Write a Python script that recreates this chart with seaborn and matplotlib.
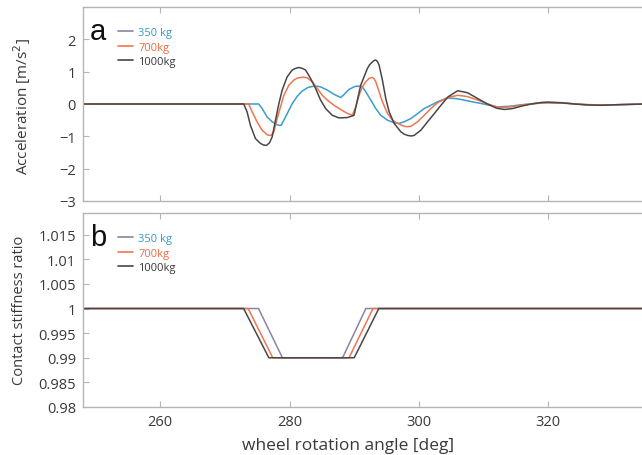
import numpy as np
import pandas as pd
import matplotlib
matplotlib.use("Agg")
import matplotlib.pyplot as plt
from matplotlib.lines import Line2D
import seaborn as sns

# ---- data -------------------------------------------------------------
loads = ["350 kg", "700kg", "1000kg"]

# vertical acceleration response [m/s^2] vs wheel rotation angle [deg]
acc_350_x = [248.0, 275.24, 275.76, 276.53, 277.31, 278.08, 278.40, 278.70, 279.12, 279.63,
             280.41, 281.19, 281.96, 282.74, 283.20, 283.77, 284.30, 284.80, 285.84, 286.87,
             287.90, 288.42, 289.20, 289.97, 290.30, 290.75, 291.26, 291.78, 292.56, 293.33,
             294.11, 295.14, 296.17, 296.50, 296.95, 297.72, 298.76, 299.79, 300.82, 301.86,
             302.89, 304.4, 306.0, 308.0, 310.0, 312.2, 314.0, 316.0, 319.4, 323.0, 326.0,
             329.0, 335.0]
acc_350_y = [0.0, 0.0, -0.14, -0.40, -0.55, -0.64, -0.66, -0.66, -0.50, -0.30,
             0.01, 0.24, 0.40, 0.50, 0.53, 0.55, 0.55, 0.53, 0.43, 0.30,
             0.20, 0.29, 0.45, 0.53, 0.55, 0.55, 0.53, 0.38, 0.12, -0.14,
             -0.35, -0.50, -0.58, -0.59, -0.60, -0.55, -0.45, -0.30, -0.14, -0.04,
             0.07, 0.19, 0.16, 0.08, 0.0, -0.09, -0.07, -0.02, 0.04, 0.02, -0.02,
             -0.03, 0.0]

acc_700_x = [248.0, 273.69, 274.21, 274.98, 275.76, 276.53, 276.80, 277.15, 277.57, 278.08,
             278.60, 279.12, 279.89, 280.67, 281.20, 281.70, 282.20, 282.74, 283.51, 284.29,
             285.06, 285.84, 286.87, 287.90, 288.94, 289.71, 290.23, 290.75, 291.26, 291.78,
             292.30, 292.55, 292.81, 293.07, 293.33, 293.85, 294.36, 295.14, 295.91, 296.69,
             297.72, 298.20, 298.76, 299.79, 300.82, 301.86, 302.89, 304.5, 306.0, 307.5,
             309.0, 310.7, 312.0, 313.0, 314.5, 316.0, 317.5, 320.0, 323.0, 326.0, 329.0,
             335.0]
acc_700_y = [0.0, 0.0, -0.24, -0.55, -0.81, -0.95, -0.97, -0.97, -0.86, -0.45,
             -0.09, 0.27, 0.58, 0.74, 0.80, 0.82, 0.83, 0.81, 0.69, 0.48,
             0.27, 0.12, -0.04, -0.17, -0.29, -0.35, -0.09, 0.27, 0.53, 0.69,
             0.79, 0.81, 0.82, 0.78, 0.69, 0.38, 0.07, -0.29, -0.50, -0.60,
             -0.69, -0.70, -0.69, -0.55, -0.35, -0.14, 0.04, 0.20, 0.27, 0.23,
             0.13, 0.0, -0.09, -0.11, -0.08, -0.03, 0.01, 0.04, 0.02, -0.02, -0.03,
             0.0]

acc_1000_x = [248.0, 272.92, 273.43, 273.95, 274.73, 275.50, 276.00, 276.43, 276.90, 277.31,
              277.83, 278.34, 278.86, 279.63, 280.41, 280.90, 281.44, 282.00, 282.48, 283.25,
              284.03, 284.80, 285.58, 286.61, 287.65, 288.94, 289.97, 290.49, 291.00, 291.52,
              292.04, 292.40, 292.81, 293.10, 293.33, 293.60, 293.85, 294.36, 294.88, 295.40,
              296.17, 297.21, 297.70, 298.24, 298.80, 299.27, 300.31, 301.34, 302.37, 303.41,
              304.5, 306.0, 307.5, 309.0, 310.6, 312.0, 313.2, 314.5, 316.0, 317.4, 319.0,
              320.0, 322.0, 324.0, 326.0, 328.2, 331.0, 335.0]
acc_1000_y = [0.0, 0.0, -0.24, -0.66, -1.07, -1.22, -1.27, -1.28, -1.20, -1.02,
              -0.50, 0.0, 0.43, 0.84, 1.05, 1.10, 1.13, 1.10, 1.05, 0.79,
              0.48, 0.12, -0.14, -0.35, -0.43, -0.42, -0.35, 0.12, 0.58, 0.84,
              1.10, 1.22, 1.30, 1.35, 1.36, 1.31, 1.20, 0.74, 0.17, -0.24,
              -0.60, -0.86, -0.93, -0.97, -0.99, -0.97, -0.81, -0.55, -0.30, -0.04,
              0.22, 0.41, 0.35, 0.18, 0.0, -0.13, -0.17, -0.14, -0.06, 0.0, 0.05,
              0.06, 0.04, 0.0, -0.03, -0.04, -0.02, 0.0]

# contact stiffness ratio vs wheel rotation angle [deg]
stiff_350_x = [248.0, 275.2, 278.9, 288.2, 291.8, 335.0]
stiff_350_y = [1.0, 1.0, 0.99, 0.99, 1.0, 1.0]
stiff_700_x = [248.0, 273.6, 277.4, 289.2, 292.9, 335.0]
stiff_700_y = [1.0, 1.0, 0.99, 0.99, 1.0, 1.0]
stiff_1000_x = [248.0, 272.9, 276.8, 290.0, 293.8, 335.0]
stiff_1000_y = [1.0, 1.0, 0.99, 0.99, 1.0, 1.0]

x_ticks = [260, 280, 300, 320]
acc_ticks = [2, 1, 0, -1, -2, -3]
acc_tick_labels = ["2", "1", "0", "\u22121", "\u22122", "\u22123"]
stiff_ticks = [1.015, 1.01, 1.005, 1.0, 0.995, 0.99, 0.985, 0.98]
stiff_tick_labels = ["1.015", "1.01", "1.005", "1", "0.995", "0.99", "0.985", "0.98"]

# ---- long-form tables -------------------------------------------------
acc_df = pd.concat([
    pd.DataFrame({"angle": acc_350_x, "value": acc_350_y, "load": loads[0]}),
    pd.DataFrame({"angle": acc_700_x, "value": acc_700_y, "load": loads[1]}),
    pd.DataFrame({"angle": acc_1000_x, "value": acc_1000_y, "load": loads[2]}),
], ignore_index=True)
stiff_df = pd.concat([
    pd.DataFrame({"angle": stiff_350_x, "value": stiff_350_y, "load": loads[0]}),
    pd.DataFrame({"angle": stiff_700_x, "value": stiff_700_y, "load": loads[1]}),
    pd.DataFrame({"angle": stiff_1000_x, "value": stiff_1000_y, "load": loads[2]}),
], ignore_index=True)

# ---- styling ----------------------------------------------------------
sns.set_style("white")
plt.rcParams["font.family"] = ["Open Sans", "DejaVu Sans"]

BLUE = "#3a9ccf"
ORANGE = "#ef7550"
DARK = "#4a4646"
LAVENDER = "#8a84a0"
SPINE = "#b8b4b4"
TEXT = "#3c3838"

acc_palette = {loads[0]: BLUE, loads[1]: ORANGE, loads[2]: DARK}
stiff_palette = {loads[0]: LAVENDER, loads[1]: ORANGE, loads[2]: DARK}
legend_line_colors = [LAVENDER, ORANGE, DARK]
legend_text_colors = ["#3399cc", "#ee6a40", "#3a3636"]

W, H = 642, 456
fig = plt.figure(figsize=(W / 100, H / 100), dpi=100)
left = 83 / W
width = 1.0 - left + 0.002
ax_a = fig.add_axes([left, 1 - 202 / H, width, 194 / H])
ax_b = fig.add_axes([left, 1 - 408 / H, width, 194 / H])

sns.lineplot(data=acc_df, x="angle", y="value", hue="load", palette=acc_palette,
             hue_order=loads, sort=False, estimator=None, legend=False,
             linewidth=1.1, ax=ax_a)
sns.lineplot(data=stiff_df, x="angle", y="value", hue="load", palette=stiff_palette,
             hue_order=loads, sort=False, estimator=None, legend=False,
             linewidth=1.1, ax=ax_b)

for ax in (ax_a, ax_b):
    ax.set_xlim(248.06, 334.7)
    ax.set_xticks(x_ticks)
    ax.set_xlabel("")
    ax.set_ylabel("")
    for side in ("left", "top", "bottom"):
        ax.spines[side].set_color(SPINE)
        ax.spines[side].set_linewidth(1.0)
    ax.spines["right"].set_visible(False)
    ax.tick_params(direction="in", length=4, width=0.8, color=SPINE,
                   labelcolor=TEXT, labelsize=10.5, top=True, bottom=True,
                   left=True, right=False, pad=5)

ax_a.set_ylim(-3, 3)
ax_a.set_yticks(acc_ticks)
ax_a.set_yticklabels(acc_tick_labels)
ax_a.tick_params(axis="x", labelbottom=False)

ax_b.set_ylim(0.98, 1.0194)
ax_b.set_yticks(stiff_ticks)
ax_b.set_yticklabels(stiff_tick_labels)

fig.text(22 / W, 1 - 107 / H, "Acceleration [m/s$^2$]", rotation=90,
         ha="center", va="center", fontsize=11, color=TEXT)
fig.text(20 / W, 1 - 310 / H, "Contact stiffness ratio", rotation=90,
         ha="center", va="center", fontsize=10.5, color=TEXT)
fig.text(348 / W, 1 - 446 / H, "wheel rotation angle [deg]",
         ha="center", va="center", fontsize=12.5, color=TEXT)

for ax, letter in ((ax_a, "a"), (ax_b, "b")):
    ax.text(0.012, 0.95, letter, transform=ax.transAxes, ha="left", va="top",
            fontsize=21, color="#111111", family=["Liberation Sans", "DejaVu Sans"])
    handles = [Line2D([], [], color=c, linewidth=1.2) for c in legend_line_colors]
    ax.legend(handles, loads, loc="upper left", bbox_to_anchor=(0.055, 0.92),
              frameon=False, fontsize=8, handlelength=1.3, handletextpad=0.5,
              labelspacing=0.32, borderaxespad=0.0,
              labelcolor=legend_text_colors)

fig.savefig("out.png", dpi=100, facecolor="white")
